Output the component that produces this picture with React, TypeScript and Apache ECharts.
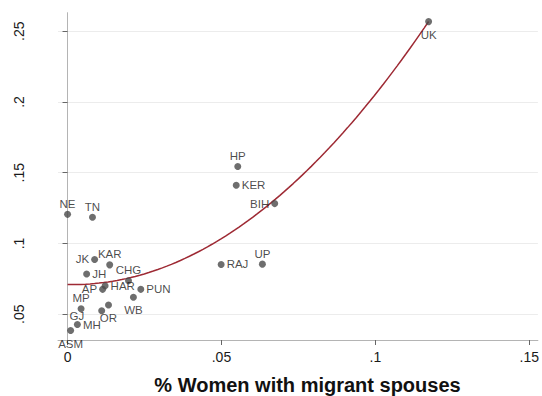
import React, { useEffect, useRef } from "react";
import * as echarts from "echarts";

// State abbreviations and their values
const states = [
  "UK", "HP", "KER", "BIH", "NE", "TN", "UP", "RAJ", "JK", "KAR", "JH",
  "CHG", "HAR", "AP", "PUN", "WB", "MP", "OR", "GJ", "MH", "ASM",
];
const migrantSpouseShare = [
  0.1173, 0.0553, 0.0548, 0.0673, 0.0, 0.0081, 0.0633, 0.0499, 0.0088, 0.0137, 0.0062,
  0.0198, 0.0122, 0.0114, 0.0238, 0.0214, 0.0044, 0.0133, 0.0111, 0.0032, 0.001,
];
const outcomeValue = [
  0.2568, 0.1544, 0.1411, 0.1282, 0.1206, 0.1185, 0.0854, 0.0852, 0.0887, 0.0849, 0.0784,
  0.0737, 0.0701, 0.0676, 0.0676, 0.062, 0.0539, 0.0565, 0.0525, 0.0427, 0.0385,
];

const xTicks = [0, 0.05, 0.1, 0.15];
const yTicks = [0.05, 0.1, 0.15, 0.2, 0.25];
const xTitle = "% Women with migrant spouses";

// Where each marker label sits relative to its dot
const labelSide: Record<string, string> = {
  UK: "bottom", HP: "top", KER: "right", BIH: "left", NE: "top", TN: "top",
  UP: "top", RAJ: "right", JK: "left", KAR: "top", JH: "right", CHG: "top",
  HAR: "right", AP: "left", PUN: "right", WB: "bottom", MP: "top", OR: "bottom",
  GJ: "left", MH: "right", ASM: "bottom",
};
const labelOffset: Record<string, number[]> = {
  GJ: [-12, 5],
};

const fmt = (v: number) => {
  if (v === 0) return "0";
  return String(Number(v.toFixed(3))).replace(/^0\./, ".");
};

// Ordinary least squares quadratic fit y = a + b x + c x^2
function quadFit(x: number[], y: number[]) {
  const n = x.length;
  let s1 = 0, s2 = 0, s3 = 0, s4 = 0, t0 = 0, t1 = 0, t2 = 0;
  for (let i = 0; i < n; i++) {
    const xi = x[i], yi = y[i];
    s1 += xi; s2 += xi * xi; s3 += xi * xi * xi; s4 += xi * xi * xi * xi;
    t0 += yi; t1 += xi * yi; t2 += xi * xi * yi;
  }
  const m = [
    [n, s1, s2, t0],
    [s1, s2, s3, t1],
    [s2, s3, s4, t2],
  ];
  for (let c = 0; c < 3; c++) {
    let p = c;
    for (let r = c + 1; r < 3; r++) if (Math.abs(m[r][c]) > Math.abs(m[p][c])) p = r;
    [m[c], m[p]] = [m[p], m[c]];
    for (let r = 0; r < 3; r++) {
      if (r === c) continue;
      const f = m[r][c] / m[c][c];
      for (let k = c; k < 4; k++) m[r][k] -= f * m[c][k];
    }
  }
  return [m[0][3] / m[0][0], m[1][3] / m[1][1], m[2][3] / m[2][2]];
}

export default function App() {
  const ref = useRef<HTMLDivElement>(null);

  useEffect(() => {
    if (!ref.current) return;
    const chart = echarts.init(ref.current, undefined, { renderer: "svg" });

    const [a, b, c] = quadFit(migrantSpouseShare, outcomeValue);
    const xMin = Math.min(...migrantSpouseShare);
    const xMax = Math.max(...migrantSpouseShare);
    const steps = 80;
    const fitLine: number[][] = [];
    for (let i = 0; i <= steps; i++) {
      const x = xMin + ((xMax - xMin) * i) / steps;
      fitLine.push([x, a + b * x + c * x * x]);
    }

    const points = states.map((name, i) => ({
      name,
      value: [migrantSpouseShare[i], outcomeValue[i]],
      label: {
        show: true,
        position: labelSide[name] as any,
        distance: labelSide[name] === "bottom" ? 3.5 : labelSide[name] === "top" ? 1 : 2,
        offset: labelOffset[name] || [0, 0],
        formatter: "{b}",
      },
    }));

    const axisText = { color: "#1a1a1a", fontSize: 14, fontFamily: "Liberation Sans, Arial, sans-serif" };

    chart.setOption({
      animation: false,
      backgroundColor: "#ffffff",
      grid: { left: 58, right: 0, top: 12.7, bottom: 56 },
      xAxis: {
        type: "value",
        min: -0.0031,
        max: 0.1528,
        axisLine: { show: true, lineStyle: { color: "#b4b4b4", width: 1 } },
        axisTick: { show: true, customValues: xTicks, length: 5, lineStyle: { color: "#666", width: 1 } },
        axisLabel: { show: true, customValues: xTicks, formatter: (v: number) => fmt(v), margin: 10, ...axisText },
        splitLine: { show: false },
      },
      yAxis: {
        type: "value",
        min: 0.0318,
        max: 0.2631,
        axisLine: { show: true, lineStyle: { color: "#b4b4b4", width: 1 } },
        axisTick: { show: true, customValues: yTicks, length: 5, lineStyle: { color: "#666", width: 1 } },
        axisLabel: { show: true, customValues: yTicks, rotate: 90, formatter: (v: number) => fmt(v), margin: 32, ...axisText },
        splitLine: { show: false },
      },
      graphic: [
        {
          type: "text",
          x: 307.5,
          y: 385.4,
          style: {
            text: xTitle,
            fill: "#111",
            font: "bold 20px 'Liberation Sans', Arial, sans-serif",
            textAlign: "center",
            textVerticalAlign: "middle",
          },
        },
      ],
      series: [
        {
          type: "scatter",
          symbol: "circle",
          symbolSize: 7,
          itemStyle: { color: "#4a4a4a" },
          label: {
            color: "#1a1a1a",
            fontSize: 11.5,
            fontFamily: "Liberation Sans, Arial, sans-serif",
          },
          data: points,
          markLine: {
            silent: true,
            symbol: "none",
            label: { show: false },
            lineStyle: { color: "#ececec", width: 1, type: "solid" },
            data: yTicks.map((v) => ({ yAxis: v })),
            z: 0,
          },
          z: 3,
        },
        {
          type: "line",
          data: fitLine,
          showSymbol: false,
          smooth: false,
          lineStyle: { color: "#9e2a34", width: 1.5 },
          z: 2,
        },
      ],
    });

    return () => chart.dispose();
  }, []);

  return (
    <div
      ref={ref}
      style={{ position: "absolute", left: 0, top: 0, width: 542, height: 396 }}
    />
  );
}
